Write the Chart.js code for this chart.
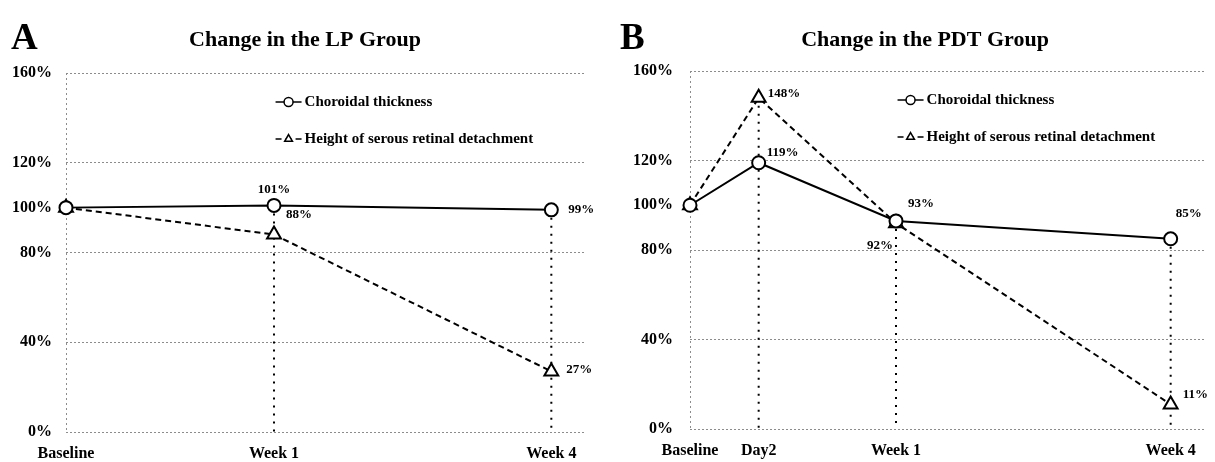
<!DOCTYPE html>
<html>
<head>
<meta charset="utf-8">
<script src="https://cdn.jsdelivr.net/npm/chart.js@4.4.1/dist/chart.umd.min.js"></script>
<style>
  html, body { margin: 0; padding: 0; background: #fff; }
  #wrap { position: relative; width: 1215px; height: 462px; }
  .panel { position: absolute; top: 0; height: 462px; }
  #panelA { left: 0; width: 607px; }
  #panelB { left: 607px; width: 608px; }
</style>
</head>
<body>
<div id="wrap">
  <div class="panel" id="panelA"><canvas id="chartA" width="607" height="462"></canvas></div>
  <div class="panel" id="panelB"><canvas id="chartB" width="608" height="462"></canvas></div>
</div>
<script>
// ===============================
// DATA
// ===============================
const seriesNames = ["Choroidal thickness", "Height of serous retinal detachment"];
const yTicks = [0, 40, 80, 100, 120, 160];

// A - LP group
const visitsA = ["Baseline", "Week 1", "Week 4"];
const slotsA = [0, 3, 7];
const choroidA = [100, 101, 99];
const srdA = [100, 88, 27];

// B - PDT group
const visitsB = ["Baseline", "Day2", "Week 1", "Week 4"];
const slotsB = [0, 1, 3, 7];
const choroidB = [100, 119, 93, 85];
const srdB = [100, 148, 92, 11];

// ===============================
// STYLES
// ===============================
const FONT = "'Liberation Serif', 'Times New Roman', serif";
const GRID_GRAY = "#8c8c8c";

// label offset per point: [dx, dy, align]
const labelPosA = [
  [null, [0, -16, "center"], [17, 0, "left"]],
  [null, [12, -20, "left"], [15, -2, "left"]],
];
const labelPosB = [
  [null, [8, -10, "left"], [12, -17, "left"], [5, -25, "left"]],
  [null, [9, -4, "left"], [-3, 22, "right"], [12, -10, "left"]],
];

const choroidStyle = {
  borderColor: "#000",
  borderWidth: 2,
  pointStyle: "circle",
  pointRadius: 6.5,
  pointBackgroundColor: "#fff",
  pointBorderColor: "#000",
  pointBorderWidth: 2,
  fill: false,
  tension: 0,
  clip: false,
};
const srdStyle = {
  ...choroidStyle,
  borderDash: [6, 4],
  pointStyle: "triangle",
  pointRadius: 8,
};

function pct(v) {
  return v + "%";
}

// ===============================
// PLUGINS
// ===============================
const dropLines = {
  id: "dropLines",
  beforeDatasetsDraw(chart) {
    const { ctx, chartArea, scales } = chart;
    const sets = chart.data.datasets;
    ctx.save();
    ctx.strokeStyle = "#000";
    ctx.lineWidth = 2;
    ctx.setLineDash([2, 6]);
    for (let i = 1; i < sets[0].data.length; i++) {
      const top = Math.max(...sets.map((d) => d.data[i].y));
      const px = scales.x.getPixelForValue(sets[0].data[i].x);
      ctx.beginPath();
      ctx.moveTo(px, scales.y.getPixelForValue(top));
      ctx.lineTo(px, chartArea.bottom);
      ctx.stroke();
    }
    ctx.restore();
  },
};

const valueLabels = {
  id: "valueLabels",
  afterDatasetsDraw(chart, args, opts) {
    const { ctx } = chart;
    ctx.save();
    ctx.fillStyle = "#000";
    ctx.font = "bold 13px " + FONT;
    ctx.textBaseline = "middle";
    chart.data.datasets.forEach((ds, di) => {
      chart.getDatasetMeta(di).data.forEach((pt, i) => {
        const off = opts.offsets[di][i];
        if (!off) return;
        ctx.textAlign = off[2];
        ctx.fillText(pct(ds.data[i].y), pt.x + off[0], pt.y + off[1]);
      });
    });
    ctx.restore();
  },
};

const innerLegend = {
  id: "innerLegend",
  afterDraw(chart, args, opts) {
    const { ctx, chartArea } = chart;
    const x0 = chartArea.left + chartArea.width * opts.fx;
    ctx.save();
    chart.data.datasets.forEach((ds, di) => {
      const y = chartArea.top + opts.rows[di];
      ctx.strokeStyle = "#000";
      ctx.lineWidth = 1.5;
      ctx.setLineDash(ds.borderDash || []);
      ctx.beginPath();
      ctx.moveTo(x0, y);
      ctx.lineTo(x0 + 26, y);
      ctx.stroke();
      ctx.setLineDash([]);
      ctx.fillStyle = "#fff";
      Chart.helpers.drawPoint(
        ctx,
        { pointStyle: ds.pointStyle, radius: 4.5, borderWidth: 1.5, rotation: 0 },
        x0 + 13,
        y
      );
      ctx.fillStyle = "#000";
      ctx.font = "bold 15px " + FONT;
      ctx.textAlign = "left";
      ctx.textBaseline = "middle";
      ctx.fillText(ds.label, x0 + 29, y);
    });
    ctx.restore();
  },
};

const panelTitle = {
  id: "panelTitle",
  afterDraw(chart, args, opts) {
    const { ctx } = chart;
    ctx.save();
    ctx.fillStyle = "#000";
    ctx.textBaseline = "alphabetic";
    ctx.font = "bold 37px " + FONT;
    ctx.textAlign = "left";
    ctx.fillText(opts.letter, opts.letterX, 49);
    ctx.font = "bold 22px " + FONT;
    ctx.textAlign = "center";
    ctx.fillText(opts.text, opts.textX, 46);
    ctx.restore();
  },
};

// ===============================
// CHARTS
// ===============================
function makeSeries(label, slots, values, style) {
  return { label, data: slots.map((x, i) => ({ x, y: values[i] })), ...style };
}

function drawPanel(canvasId, p) {
  const tickFont = { family: FONT, size: 16, weight: "bold" };
  new Chart(document.getElementById(canvasId), {
    type: "line",
    data: {
      datasets: [
        makeSeries(seriesNames[0], p.slots, p.choroid, choroidStyle),
        makeSeries(seriesNames[1], p.slots, p.srd, srdStyle),
      ],
    },
    options: {
      responsive: false,
      animation: false,
      layout: { padding: p.pad },
      plugins: {
        legend: { display: false },
        tooltip: { enabled: false },
        valueLabels: { offsets: p.offsets },
        innerLegend: { fx: 0.403, rows: [29, 66] },
        panelTitle: p.title,
      },
      scales: {
        x: {
          type: "linear",
          min: 0,
          max: 7.5,
          afterBuildTicks: (s) => {
            s.ticks = p.slots.map((v) => ({ value: v }));
          },
          afterFit: (s) => {
            s.height = p.xAxisH;
          },
          ticks: {
            autoSkip: false,
            maxRotation: 0,
            padding: 12,
            color: "#000",
            font: tickFont,
            callback: (v) => {
              const i = p.slots.indexOf(v);
              return i >= 0 ? p.visits[i] : "";
            },
          },
          grid: {
            drawTicks: false,
            color: (c) => (c.tick && c.tick.value === 0 ? GRID_GRAY : "rgba(0,0,0,0)"),
          },
          border: { display: false, dash: [2, 3] },
        },
        y: {
          min: 0,
          max: 160,
          afterBuildTicks: (s) => {
            s.ticks = yTicks.map((v) => ({ value: v }));
          },
          afterFit: (s) => {
            s.width = p.yAxisW;
          },
          ticks: {
            padding: p.yPad,
            color: "#000",
            font: tickFont,
            callback: (v) => pct(v),
          },
          grid: {
            drawTicks: false,
            color: (c) => (c.tick && c.tick.value === 100 ? "rgba(0,0,0,0)" : GRID_GRAY),
          },
          border: { display: false, dash: [2, 2] },
        },
      },
    },
    plugins: [dropLines, valueLabels, innerLegend, panelTitle],
  });
}

drawPanel("chartA", {
  visits: visitsA,
  slots: slotsA,
  choroid: choroidA,
  srd: srdA,
  offsets: labelPosA,
  pad: { top: 73, right: 21, bottom: 0, left: 0 },
  xAxisH: 30,
  yAxisW: 66,
  yPad: 14,
  title: { letter: "A", letterX: 11, text: "Change in the LP Group", textX: 305 },
});

drawPanel("chartB", {
  visits: visitsB,
  slots: slotsB,
  choroid: choroidB,
  srd: srdB,
  offsets: labelPosB,
  pad: { top: 71, right: 4, bottom: 0, left: 0 },
  xAxisH: 33,
  yAxisW: 83,
  yPad: 17,
  title: { letter: "B", letterX: 13, text: "Change in the PDT Group", textX: 318 },
});
</script>
</body>
</html>
